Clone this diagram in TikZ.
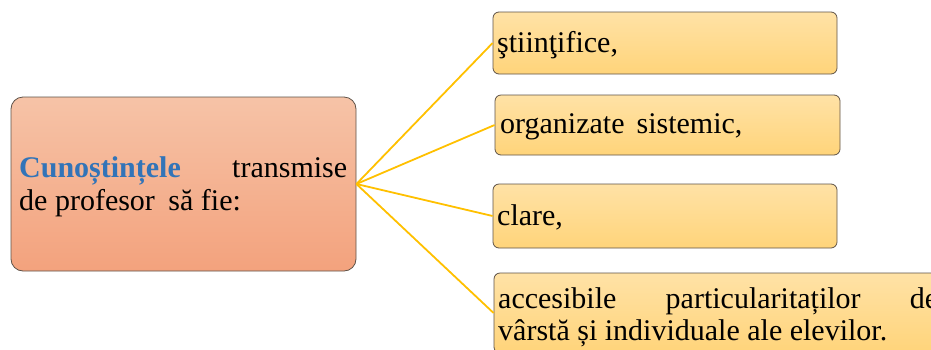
\documentclass[tikz,border=0pt]{standalone}
\usepackage{fontspec}
\setmainfont{Liberation Serif}
\definecolor{salmontop}{HTML}{F6C3A7}
\definecolor{salmonbot}{HTML}{F3A27D}
\definecolor{goldtop}{HTML}{FFE2A6}
\definecolor{goldbot}{HTML}{FFD47A}
\definecolor{edgegray}{HTML}{5E5248}
\definecolor{linkyellow}{HTML}{FFC000}
\definecolor{headblue}{HTML}{3274B8}
\begin{document}
\begin{tikzpicture}[x=1pt,y=-1pt,
  mainbox/.style={draw=edgegray, line width=0.8pt, rounded corners=12pt,
    top color=salmontop, bottom color=salmonbot, inner sep=0pt},
  itembox/.style={draw=edgegray, line width=0.8pt, rounded corners=6pt,
    top color=goldtop, bottom color=goldbot, inner sep=0pt},
  link/.style={draw=linkyellow, line width=1.8pt},
  txt/.style={anchor=base west, inner sep=0pt, font=\fontsize{30}{33}\selectfont}]
\useasboundingbox (0,0) rectangle (931,349);

% central box and the four qualities
\node[mainbox, minimum width=345pt, minimum height=174pt] (main) at (183.5,184) {};
\node[itembox, minimum width=344pt, minimum height=62pt] (b1) at (665,43) {};
\node[itembox, minimum width=345pt, minimum height=60pt] (b2) at (667.5,125) {};
\node[itembox, minimum width=344pt, minimum height=64pt] (b3) at (665,216) {};
\node[itembox, minimum width=470pt, minimum height=80pt] (b4) at (729,313) {};

% connectors fanning out from the central box
\draw[link] (main.east) -- (b1.west);
\draw[link] (main.east) -- (b2.west);
\draw[link] (main.east) -- (b3.west);
\draw[link] (main.east) -- (b4.west);

% texts
\node[txt] (m1) at (19,177) {\makebox[328pt][s]{\textcolor{headblue}{\bfseries Cunoștințele} transmise}};
\node[txt] (m2) at (19,210) {de profesor\hspace{0.45em}să fie:};
\node[txt] (t1) at (497,52) {ştiinţifice,};
\node[txt] (t2) at (500,133) {organizate\hspace{0.4em}sistemic,};
\node[txt] (t3) at (497,225) {clare,};
\node[txt] (t4a) at (498,308) {\makebox[440pt][s]{accesibile particularitaților de}};
\node[txt] (t4b) at (498,340) {vârstă și individuale ale elevilor.};
\end{tikzpicture}
\end{document}
